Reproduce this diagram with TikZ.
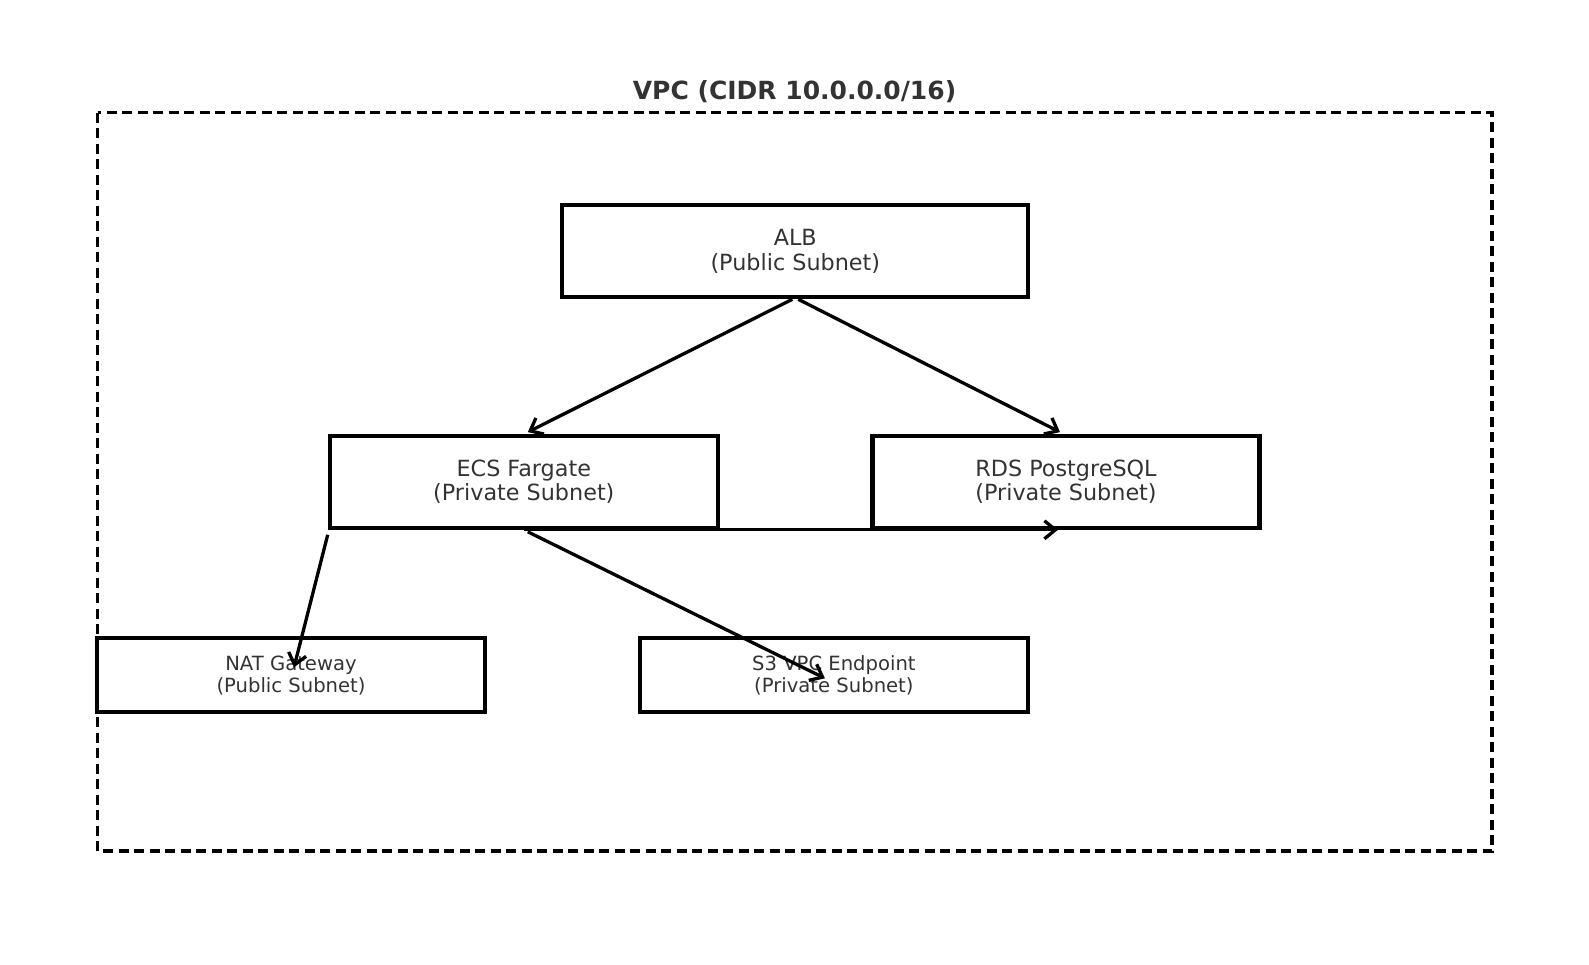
\documentclass[tikz,border=0pt]{standalone}
\usepackage{fontspec}
\setmainfont{DejaVu Sans}
\usetikzlibrary{arrows.meta}
\definecolor{txt}{HTML}{333333}
\tikzset{
  bigbox/.style={draw=black, line width=4.2pt, minimum width=466pt, minimum height=92pt, inner sep=0pt, align=center, text=txt, font=\fontsize{22.3pt}{24.5pt}\selectfont},
  smallbox/.style={draw=black, line width=4.2pt, minimum width=388pt, minimum height=74pt, inner sep=0pt, align=center, text=txt, font=\fontsize{19.6pt}{22.3pt}\selectfont},
  conn/.style={draw=black, line width=3.3pt, -{Straight Barb[length=11pt,width=18pt,line width=3.3pt]}},
  vpcframe/.style={draw=black, line width=3.6pt, dash pattern=on 10pt off 5.5pt},
}
\begin{document}
\begin{tikzpicture}[x=1pt,y=-1pt]
\useasboundingbox (0,0) rectangle (1589,964);
\draw[vpcframe] (97.5,112.5) rectangle (1492,851);
\node[text=txt, font=\bfseries\fontsize{25pt}{28pt}\selectfont] (title) at (794.5,92) {VPC (CIDR 10.0.0.0/16)};
\node[bigbox] (alb) at (795.3,251.2) {ALB\\(Public Subnet)};
\node[bigbox, minimum width=388pt] (ecs) at (523.8,481.7) {ECS Fargate\\(Private Subnet)};
\node[bigbox, minimum width=387pt] (rds) at (1066,481.7) {RDS PostgreSQL\\(Private Subnet)};
\node[smallbox] (nat) at (291,675.3) {NAT Gateway\\(Public Subnet)};
\node[smallbox] (s3) at (833.9,675.3) {S3 VPC Endpoint\\(Private Subnet)};
\draw[conn] ([xshift=-3pt]alb.south) -- ([xshift=4pt,yshift=1.5pt]ecs.north);
\draw[conn] ([xshift=3pt]alb.south) -- ([xshift=-6pt,yshift=1.5pt]rds.north);
\draw[conn] (ecs.south) -- ([xshift=-8pt]rds.south);
\draw[conn] ([yshift=-5pt]ecs.south west) -- ([xshift=3pt,yshift=8pt]nat.center);
\draw[conn] ([xshift=4pt,yshift=-2pt]ecs.south) -- ([xshift=-9pt,yshift=-3pt]s3.center);
\end{tikzpicture}
\end{document}
